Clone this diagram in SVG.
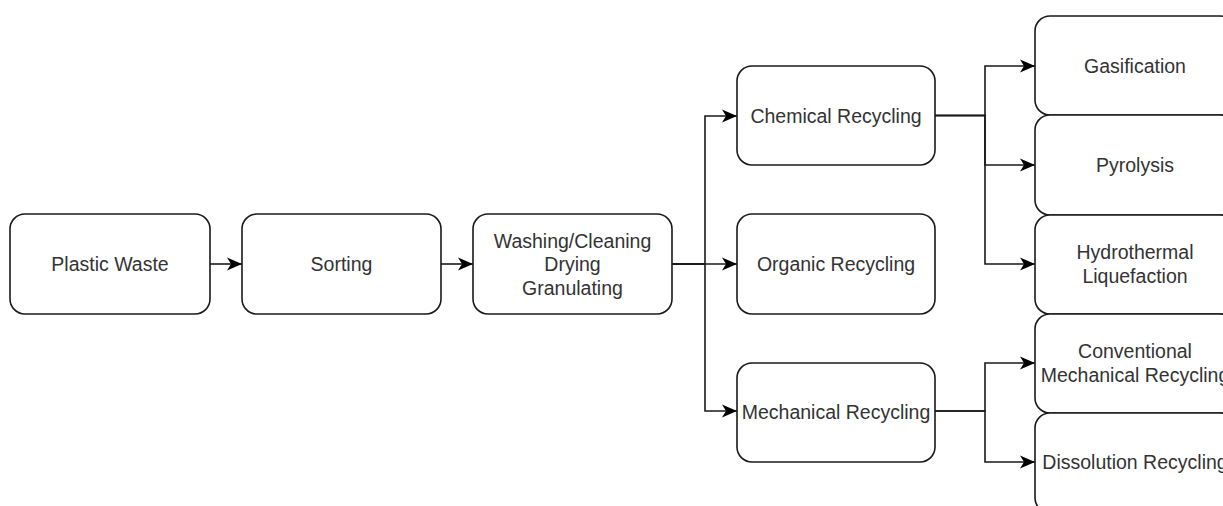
<svg xmlns="http://www.w3.org/2000/svg" width="1223" height="506" viewBox="0 0 1223 506">
  <style>
    .box { fill: #ffffff; stroke: #1a1a1a; stroke-width: 1.6; }
    .lbl { font-family: "Liberation Sans", Arial, sans-serif; font-size: 19.5px; fill: #333333; text-anchor: middle; }
    .edge { fill: none; stroke: #1a1a1a; stroke-width: 1.6; marker-end: url(#arrow); }
  </style>
  <defs>
    <marker id="arrow" markerUnits="userSpaceOnUse" viewBox="-16 -8 17 16" markerWidth="17" markerHeight="16" refX="0" refY="0" orient="auto">
      <path d="M0,0 L-15,-6.5 L-11,0 L-15,6.5 Z" fill="#000000"/>
    </marker>
  </defs>
  <rect width="1223" height="506" fill="#ffffff"/>

  <g id="connectors">
    <path class="edge" d="M210,264 H242"/>
    <path class="edge" d="M441,264 H473"/>
    <path class="edge" d="M672,264 H737"/>
    <path class="edge" d="M672,264 H705 V116 H737"/>
    <path class="edge" d="M672,264 H705 V411 H737"/>
    <path class="edge" d="M935,115.5 H985 V66 H1035"/>
    <path class="edge" d="M935,115.5 H985 V165 H1035"/>
    <path class="edge" d="M935,115.5 H985 V264 H1035"/>
    <path class="edge" d="M935,411 H985 V363 H1035"/>
    <path class="edge" d="M935,411 H985 V462 H1035"/>
  </g>

  <g id="plastic-waste">
    <rect class="box" x="10" y="214" width="200" height="100" rx="15"/>
    <text class="lbl" x="110" y="271">Plastic Waste</text>
  </g>
  <g id="sorting">
    <rect class="box" x="242" y="214" width="199" height="100" rx="15"/>
    <text class="lbl" x="341.5" y="271">Sorting</text>
  </g>
  <g id="washing">
    <rect class="box" x="473" y="214" width="199" height="100" rx="15"/>
    <text class="lbl" x="572.5" y="247.5">Washing/Cleaning</text>
    <text class="lbl" x="572.5" y="271">Drying</text>
    <text class="lbl" x="572.5" y="294.5">Granulating</text>
  </g>
  <g id="chemical-recycling">
    <rect class="box" x="737" y="66" width="198" height="99" rx="15"/>
    <text class="lbl" x="836" y="123">Chemical Recycling</text>
  </g>
  <g id="organic-recycling">
    <rect class="box" x="737" y="214" width="198" height="100" rx="15"/>
    <text class="lbl" x="836" y="271">Organic Recycling</text>
  </g>
  <g id="mechanical-recycling">
    <rect class="box" x="737" y="363" width="198" height="99" rx="15"/>
    <text class="lbl" x="836" y="419">Mechanical Recycling</text>
  </g>
  <g id="gasification">
    <rect class="box" x="1035" y="16" width="200" height="99" rx="15"/>
    <text class="lbl" x="1135" y="73">Gasification</text>
  </g>
  <g id="pyrolysis">
    <rect class="box" x="1035" y="115" width="200" height="100" rx="15"/>
    <text class="lbl" x="1135" y="172">Pyrolysis</text>
  </g>
  <g id="hydrothermal-liquefaction">
    <rect class="box" x="1035" y="215" width="200" height="99" rx="15"/>
    <text class="lbl" x="1135" y="258.5">Hydrothermal</text>
    <text class="lbl" x="1135" y="282.5">Liquefaction</text>
  </g>
  <g id="conventional-mechanical-recycling">
    <rect class="box" x="1035" y="314" width="200" height="99" rx="15"/>
    <text class="lbl" x="1135" y="357.5">Conventional</text>
    <text class="lbl" x="1135" y="381.5">Mechanical Recycling</text>
  </g>
  <g id="dissolution-recycling">
    <rect class="box" x="1035" y="413" width="200" height="100" rx="15"/>
    <text class="lbl" x="1135" y="469">Dissolution Recycling</text>
  </g>
</svg>
